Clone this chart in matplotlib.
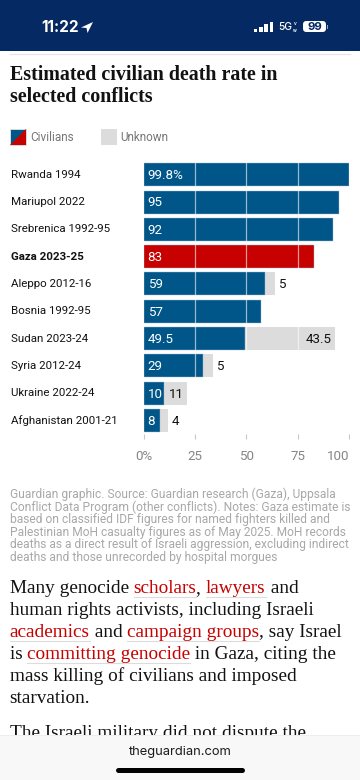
import numpy as np
import matplotlib
matplotlib.use("Agg")
import matplotlib.pyplot as plt
from matplotlib.patches import Rectangle, FancyBboxPatch, Polygon

W, H = 360, 780

conflicts = ["Rwanda 1994", "Mariupol 2022", "Srebrenica 1992-95", "Gaza 2023-25", "Aleppo 2012-16",
             "Bosnia 1992-95", "Sudan 2023-24", "Syria 2012-24", "Ukraine 2022-24", "Afghanistan 2001-21"]
civilians = [99.8, 95, 92, 83, 59, 57, 49.5, 29, 10, 8]
unknown = [0, 0, 0, 0, 5, 0, 43.5, 5, 11, 4]
civ_labels = ["99.8%", "95", "92", "83", "59", "57", "49.5", "29", "10", "8"]
unk_labels = ["", "", "", "", "5", "", "43.5", "5", "11", "4"]
x_ticks = [0, 25, 50, 75, 100]
x_tick_labels = ["0%", "25", "50", "75", "100"]

title_lines = ["Estimated civilian death rate in", "selected conflicts"]
note_lines = [
    "Guardian graphic. Source: Guardian research (Gaza), Uppsala",
    "Conflict Data Program (other conflicts). Notes: Gaza estimate is",
    "based on classified IDF figures for named fighters killed and",
    "Palestinian MoH casualty figures as of May 2025. MoH records",
    "deaths as a direct result of Israeli aggression, excluding indirect",
    "deaths and those unrecorded by hospital morgues",
]
# (text, is a link)
body_lines = [
    [("Many genocide ", 0), ("scholars", 1), (", ", 0), ("lawyers", 1), (" and", 0)],
    [("human rights activists, including Israeli", 0)],
    [("academics", 1), (" and ", 0), ("campaign groups", 1), (", say Israel", 0)],
    [("is ", 0), ("committing genocide", 1), (" in Gaza, citing the", 0)],
    [("mass killing of civilians and imposed", 0)],
    [("starvation.", 0)],
]

BLUE = "#005689"
RED = "#c70000"
GREY = "#dcdcdc"
NAVY = "#052962"
SANS = "Roboto"
SERIF = "Liberation Serif"

fig = plt.figure(figsize=(W / 100, H / 100), dpi=100, facecolor="white")

# page furniture, drawn in pixel coordinates
page = fig.add_axes([0, 0, 1, 1], zorder=0)
page.set_xlim(0, W)
page.set_ylim(H, 0)
page.axis("off")

page.add_patch(Rectangle((0, 0), W, 50.5, color=NAVY, lw=0))
page.text(60, 27, "11:22", color="white", fontsize=11, family="Inter", weight="bold", ha="center", va="center")
page.add_patch(Polygon([[81, 27.5], [93, 22], [87.5, 33], [86.5, 28]], color="white", lw=0))
for bar_x, bar_h in zip([254, 259.2, 264.4, 269.6], [3.5, 5.5, 8, 10.5]):
    page.add_patch(Rectangle((bar_x, 32 - bar_h), 3.3, bar_h, color="white", lw=0))
page.text(278, 27.5, "5G", color="white", fontsize=7.4, family="Inter", weight="medium", va="center")
page.text(295, 24, "V", color="white", fontsize=2.6, family="Inter", weight="bold", ha="center", va="center")
page.text(295, 30.5, "W", color="white", fontsize=2.6, family="Inter", weight="bold", ha="center", va="center")
page.add_patch(FancyBboxPatch((303, 21), 23, 11, boxstyle="round,pad=0,rounding_size=3.5", color="white", lw=0))
page.text(314.5, 26.6, "99", color=NAVY, fontsize=8.2, family="Inter", weight="bold", ha="center", va="center")
page.add_patch(Rectangle((327, 25), 1, 3.5, color="#9aa8c0", lw=0))

page.plot([10, 350], [53.5, 53.5], color="#e6e6e6", lw=0.9)

for i, line in enumerate(title_lines):
    page.text(9.5, 80 + i * 22, line, color="#121212", fontsize=14.4, family=SERIF, weight="bold", va="baseline")

# legend
page.add_patch(Rectangle((10, 129), 16, 16, facecolor=BLUE, edgecolor="#e4e4e4", lw=0.6))
page.add_patch(Polygon([[10, 145], [26, 129], [26, 145]], color=RED, lw=0))
page.text(30, 137.5, "Civilians", color="#767676", fontsize=8.5, family=SANS, va="center")
page.add_patch(Rectangle((100.5, 129), 16, 16, color=GREY, lw=0))
page.text(120.5, 137.5, "Unknown", color="#767676", fontsize=8.5, family=SANS, va="center")

for i, line in enumerate(note_lines):
    page.text(9.5, 498 + i * 12.55, line, color="#a8a8a8", fontsize=8.65, family=SANS, va="baseline")

# body copy, run by run so the links can be coloured
fig.canvas.draw()
renderer = fig.canvas.get_renderer()
for i, runs in enumerate(body_lines):
    x = 9.5
    y = 593 + i * 22.05
    for text, is_link in runs:
        t = page.text(x, y, text.replace(" ", "\u00a0"), color=RED if is_link else "#121212", fontsize=13.9,
                      family=SERIF, va="baseline")
        width = t.get_window_extent(renderer).width
        if is_link:
            page.plot([x, x + width], [y + 3.5, y + 3.5], color="#dcdcdc", lw=0.8)
        x += width
page.text(9.5, 738, "The Israeli military did not dispute the", color="#121212", fontsize=13.9,
          family=SERIF, va="baseline")

# bottom browser bar goes over the clipped last line
page.add_patch(Rectangle((0, 735), W, 45, color="#f8f8f8", lw=0, zorder=5))
page.plot([0, W], [735, 735], color="#eeeeee", lw=0.7, zorder=6)
page.text(180, 751.5, "theguardian.com", color="#1c1c1c", fontsize=9.3, family="Inter", ha="center",
          va="center", zorder=6)
page.plot([118, 242], [770, 770], color="black", lw=3.6, solid_capstyle="round", zorder=6)

# chart: 0-100 runs over x 143.5-349 px, rows are 27.3 px apart
left, right, top, bottom = 143.5, 349.0, 161.0, 434.0
ax = fig.add_axes([left / W, 1 - bottom / H, (right - left) / W, (bottom - top) / H], zorder=1)
ax.patch.set_alpha(0)
row_px = 27.3
ax.set_xlim(0, 100)
ax.set_ylim((bottom - 174.8) / row_px, (top - 174.8) / row_px)
for s in ax.spines.values():
    s.set_visible(False)

y = np.arange(len(conflicts))
colors = [RED if c.startswith("Gaza") else BLUE for c in conflicts]
ax.barh(y, civilians, height=23 / row_px, color=colors, edgecolor="#9fc0d6", linewidth=0.3, zorder=2)
ax.barh(y, unknown, left=civilians, height=23 / row_px, color=GREY, linewidth=0, zorder=1)

# gridlines show only across the bars, the page behind them is white
ax.vlines(x_ticks[1:-1], -0.5, len(y) - 0.5, color="white", alpha=0.6, lw=0.9, zorder=3)

ax.set_yticks([])
ax.set_xticks(x_ticks)
ax.set_xticklabels(x_tick_labels, fontsize=9.6, color="#858585", family=SANS)
ax.tick_params(axis="x", length=3.8, width=0.8, color="#c8c8c8", pad=7.5)
ax.get_xticklabels()[-1].set_ha("right")

tr = ax.get_yaxis_transform()
for i, name in enumerate(conflicts):
    bold = name.startswith("Gaza")
    ax.text((11 - left) / (right - left), i, name, transform=tr, fontsize=8.25, family=SANS, color="#121212",
            weight="bold" if bold else "normal", va="center", clip_on=False)
    ax.text(2, i + 0.03, civ_labels[i], fontsize=9.6, family=SANS, color="white", va="center", zorder=4)
    if unk_labels[i]:
        end = civilians[i] + unknown[i]
        if unk_labels[i] in ("43.5", "11"):
            ax.text(end - 1.5, i + 0.03, unk_labels[i], fontsize=9.6, family=SANS, color="#121212", ha="right",
                    va="center", zorder=4)
        else:
            ax.text(end + 1.5, i + 0.03, unk_labels[i], fontsize=9.6, family=SANS, color="#121212", va="center",
                    zorder=4)

fig.savefig("out.png", dpi=100, facecolor="white")
